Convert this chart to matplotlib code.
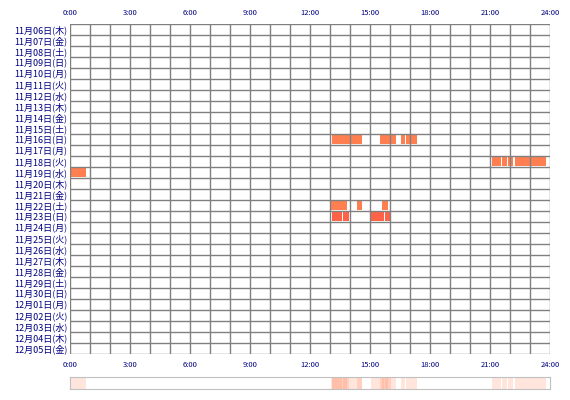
import matplotlib
matplotlib.use('Agg')
import matplotlib.pyplot as plt
from matplotlib.patches import Rectangle

plt.rcParams['font.family'] = ['Noto Sans CJK JP', 'DejaVu Sans']

dates = ['11月06日(木)', '11月07日(金)', '11月08日(土)', '11月09日(日)', '11月10日(月)',
         '11月11日(火)', '11月12日(水)', '11月13日(木)', '11月14日(金)', '11月15日(土)',
         '11月16日(日)', '11月17日(月)', '11月18日(火)', '11月19日(水)', '11月20日(木)',
         '11月21日(金)', '11月22日(土)', '11月23日(日)', '11月24日(月)', '11月25日(火)',
         '11月26日(水)', '11月27日(木)', '11月28日(金)', '11月29日(土)', '11月30日(日)',
         '12月01日(月)', '12月02日(火)', '12月03日(水)', '12月04日(木)', '12月05日(金)']
xticks = [0, 3, 6, 9, 12, 15, 18, 21, 24]
xlabels = ['0:00', '3:00', '6:00', '9:00', '12:00', '15:00', '18:00', '21:00', '24:00']

# (row index, start hour, end hour)
rows = [10, 10, 10, 10, 12, 12, 12, 12, 13, 16, 16, 16, 17, 17, 17, 17]
starts = [13.1, 15.5, 16.55, 16.8, 21.08, 21.6, 21.9, 22.25, 0.05, 13.05, 14.35, 15.6, 13.1, 13.65, 15.05, 15.75]
ends = [14.6, 16.3, 16.75, 17.35, 21.55, 21.85, 22.17, 23.8, 0.8, 13.85, 14.6, 15.9, 13.6, 13.95, 15.7, 16.05]

txt = '#000080'
fig = plt.figure(figsize=(5.7, 4.0), dpi=100)
ax = fig.add_axes([70 / 570, 46 / 400, 480 / 570, 330 / 400])
n = len(dates)
for r, s, e in zip(rows, starts, ends):
    c = '#ff6347' if r == 17 else '#ff7f50'
    ax.add_patch(Rectangle((s, r + 0.05), e - s, 0.9, color=c, lw=0, zorder=1))
ax.set_xlim(0, 24)
ax.set_ylim(n, 0)
for i in range(25):
    ax.axvline(i, color='#808080', lw=1, zorder=2)
for j in range(n + 1):
    ax.axhline(j, color='#808080', lw=1, zorder=2)
ax.set_xticks(xticks)
ax.set_xticklabels(xlabels, fontsize=5.5, color=txt)
ax.tick_params(axis='x', length=0, top=True, labeltop=True, pad=5)
ax.set_yticks([i + 0.5 for i in range(n)])
ax.set_yticklabels(dates, fontsize=6.5, color=txt)
ax.tick_params(axis='y', length=0, pad=2)
for sp in ax.spines.values():
    sp.set_visible(False)

# summary strip
ax2 = fig.add_axes([70 / 570, 11 / 400, 480 / 570, 12 / 400])
for s, e in zip(starts, ends):
    ax2.add_patch(Rectangle((s, 0), e - s, 1, color='#ff7f50', alpha=0.2, lw=0))
ax2.set_xlim(0, 24)
ax2.set_ylim(0, 1)
ax2.set_xticks([])
ax2.set_yticks([])
for sp in ax2.spines.values():
    sp.set_color('#c0c0c0')

fig.savefig('out.png', dpi=100)
